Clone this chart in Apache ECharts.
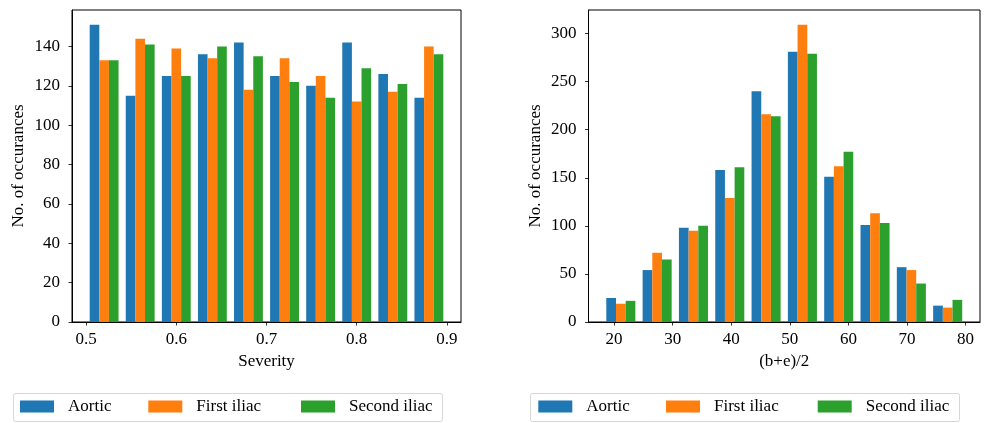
<!DOCTYPE html>
<html><head><meta charset="utf-8">
<script src="https://cdn.jsdelivr.net/npm/echarts@6/dist/echarts.min.js"></script>
<style>html,body{margin:0;padding:0;background:#fff}#c{width:993px;height:423px}</style>
</head><body><div id="c"></div>
<script>
// ---- data ----
const seriesNames = ['Aortic', 'First iliac', 'Second iliac'];
const severityBinStart = 0.5;
const severityBinWidth = 0.04;
const severityAortic = [151, 115, 125, 136, 142, 125, 120, 142, 126, 114];
const severityFirst  = [133, 144, 139, 134, 118, 134, 125, 112, 117, 140];
const severitySecond = [133, 141, 125, 140, 135, 122, 114, 129, 121, 136];
const beBinStart = 18.05;
const beBinWidth = 6.2;
const beAortic = [25, 54, 98, 158, 240, 281, 151, 101, 57, 17];
const beFirst  = [19, 72, 95, 129, 216, 309, 162, 113, 54, 15];
const beSecond = [22, 65, 100, 161, 214, 279, 177, 103, 40, 23];
const severityXTicks = [0.5, 0.6, 0.7, 0.8, 0.9];
const severityYTicks = [0, 20, 40, 60, 80, 100, 120, 140];
const beXTicks = [20, 30, 40, 50, 60, 70, 80];
const beYTicks = [0, 50, 100, 150, 200, 250, 300];

// ---- styling ----
const colors = ['#1f77b4', '#ff7f0e', '#2ca02c'];
const FONT = 'Liberation Serif';
const FS = 17;

function histSeries(g, binStart, binW, counts, k) {
  const bw = binW * 0.8 / 3;
  const data = counts.map((c, i) => [binStart + i * binW + 0.1 * binW + k * bw, c]);
  return {
    type: 'custom', name: seriesNames[k], xAxisIndex: g, yAxisIndex: g,
    itemStyle: { color: colors[k] }, encode: { x: 0, y: 1 }, data,
    renderItem: (params, api) => {
      const x0 = api.value(0), v = api.value(1);
      const a = api.coord([x0, v]);
      const b = api.coord([x0 + bw, 0]);
      return { type: 'rect', shape: { x: a[0], y: a[1], width: b[0] - a[0], height: b[1] - a[1] },
               style: { fill: colors[k] } };
    }
  };
}
function xRange(binStart, binW) {
  const lo = binStart + 0.1 * binW, hi = binStart + 10 * binW - 0.1 * binW;
  const m = (hi - lo) * 0.05;
  return [lo - m, hi + m];
}
function xAxis(g, range, ticks, fmt, name) {
  return {
    type: 'value', gridIndex: g, min: range[0], max: range[1],
    name, nameLocation: 'middle', nameGap: 31,
    nameTextStyle: { fontFamily: FONT, fontSize: FS, color: '#000' },
    axisLine: { show: true, lineStyle: { color: '#000', width: 1 } },
    axisTick: { show: true, length: 3.5, lineStyle: { color: '#000', width: 0.8 }, customValues: ticks },
    axisLabel: { fontFamily: FONT, fontSize: FS, color: '#000', margin: 9, customValues: ticks, formatter: fmt },
    splitLine: { show: false }
  };
}
function yAxis(g, maxV, ticks, gap) {
  return {
    type: 'value', gridIndex: g, min: 0, max: maxV * 1.05,
    name: 'No. of occurances', nameLocation: 'middle', nameGap: gap, nameRotate: 90,
    nameTextStyle: { fontFamily: FONT, fontSize: FS, color: '#000' },
    axisLine: { show: true, lineStyle: { color: '#000', width: 1 } },
    axisTick: { show: true, length: 3.5, lineStyle: { color: '#000', width: 0.8 }, customValues: ticks },
    axisLabel: { fontFamily: FONT, fontSize: FS, color: '#000', margin: 12, customValues: ticks },
    splitLine: { show: false }
  };
}
function legendItem(name, left) {
  return {
    data: [name], left, top: 398, padding: 0, icon: 'rect', itemWidth: 34, itemHeight: 12,
    selectedMode: false,
    textStyle: { fontFamily: FONT, fontSize: FS, color: '#000', padding: [0, 0, 0, 9] }
  };
}

const sevMax = Math.max(...severityAortic, ...severityFirst, ...severitySecond);
const beMax = Math.max(...beAortic, ...beFirst, ...beSecond);

const option = {
  animation: false,
  backgroundColor: '#fff',
  grid: [
    { left: 72, top: 10, width: 389, height: 312, show: true, borderColor: '#000', borderWidth: 1 },
    { left: 588.5, top: 10, width: 391.5, height: 312, show: true, borderColor: '#000', borderWidth: 1 }
  ],
  xAxis: [
    xAxis(0, xRange(severityBinStart, severityBinWidth), severityXTicks, v => v.toFixed(1), 'Severity'),
    xAxis(1, xRange(beBinStart, beBinWidth), beXTicks, v => String(v), '(b+e)/2')
  ],
  yAxis: [
    yAxis(0, sevMax, severityYTicks, 45),
    yAxis(1, beMax, beYTicks, 44)
  ],
  legend: [
    legendItem('Aortic', 20), legendItem('First iliac', 148.3), legendItem('Second iliac', 301),
    legendItem('Aortic', 538.3), legendItem('First iliac', 666), legendItem('Second iliac', 817.7)
  ],
  graphic: [
    { type: 'rect', shape: { x: 13.5, y: 393.5, width: 429, height: 28, r: 2 },
      style: { fill: 'none', stroke: '#d6d6d6', lineWidth: 1 } },
    { type: 'rect', shape: { x: 530.5, y: 393.5, width: 429, height: 28, r: 2 },
      style: { fill: 'none', stroke: '#d6d6d6', lineWidth: 1 } }
  ],
  series: [
    histSeries(0, severityBinStart, severityBinWidth, severityAortic, 0),
    histSeries(0, severityBinStart, severityBinWidth, severityFirst, 1),
    histSeries(0, severityBinStart, severityBinWidth, severitySecond, 2),
    histSeries(1, beBinStart, beBinWidth, beAortic, 0),
    histSeries(1, beBinStart, beBinWidth, beFirst, 1),
    histSeries(1, beBinStart, beBinWidth, beSecond, 2)
  ]
};
const chart = echarts.init(document.getElementById('c'), null, { renderer: 'canvas' });
chart.setOption(option);
</script>
</body></html>
